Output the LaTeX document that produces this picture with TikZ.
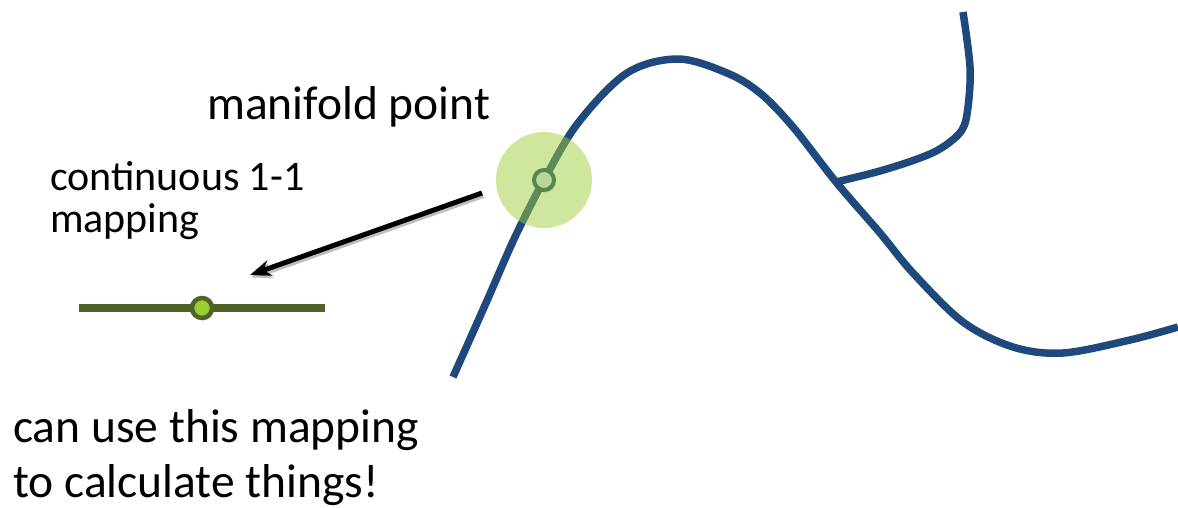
\documentclass[tikz,border=0pt]{standalone}
\usepackage{fontspec}
\setmainfont{Carlito}
\usetikzlibrary{arrows.meta,shadows}
\definecolor{curveblue}{RGB}{31,73,125}
\definecolor{segolive}{RGB}{79,98,40}
\definecolor{lpfill}{RGB}{154,205,50}
\definecolor{nbhd}{RGB}{160,205,60}
\definecolor{mpfill}{RGB}{185,215,150}
\definecolor{mpdraw}{RGB}{85,135,80}
\begin{document}
\begin{tikzpicture}[x=1pt,y=-1pt,
  curve/.style={draw=curveblue, line width=7.5pt, line cap=butt},
  seg/.style={draw=segolive, line width=7.5pt},
  nbhdcircle/.style={circle, fill=nbhd, fill opacity=0.5, minimum size=96pt, inner sep=0pt},
  mpoint/.style={circle, draw=mpdraw, fill=mpfill, line width=4pt, minimum size=20pt, inner sep=0pt,
    drop shadow={shadow xshift=1.5pt, shadow yshift=-2.5pt, opacity=0.3}},
  lpoint/.style={circle, draw=segolive, fill=lpfill, line width=4.5pt, minimum size=20pt, inner sep=0pt,
    drop shadow={shadow xshift=1.5pt, shadow yshift=-2.5pt, opacity=0.3}},
  arr/.style={draw=black, line width=5pt, -{Stealth[length=21pt,width=16pt]},
    preaction={draw=black, opacity=0.25, line width=5pt, -{Stealth[length=21pt,width=16pt]},
      transform canvas={shift={(1.5pt,-2.5pt)}}}},
  bigtext/.style={anchor=base west, inner sep=0pt, align=left, font=\fontsize{47.5}{55}\selectfont},
  midtext/.style={anchor=base west, inner sep=0pt, align=left, font=\fontsize{42}{42}\selectfont}
]
\useasboundingbox (0,0) rectangle (1178,508);
% manifold curve
\draw[curve] plot[smooth, tension=0.55] coordinates {(453,377) (486,303) (515,237) (544,180) (578,123) (627,73) (678,59) (727,73) (760,93) (793,127) (836,182) (880,233) (913,273) (963,322) (1013,347) (1063,353) (1130,340) (1178,327)};
\coordinate (junc) at (836,182);
\draw[curve] plot[smooth, tension=0.55] coordinates {(836,182) (880,171) (920,158) (943,147) (962,130) (968,107) (970,67) (963,12)};
% neighbourhood
\node[nbhdcircle] (nb) at (544,180) {};
\node[mpoint] (mp) at (544,180) {};
% chart segment
\coordinate (sL) at (79,308);
\coordinate (sR) at (325,308);
\draw[seg] (sL) -- (sR);
\node[lpoint] (lp) at (202,308) {};
% arrow
\coordinate (aS) at (482,193);
\coordinate (aE) at (250,275);
\draw[arr] (aS) -- (aE);
% texts
\node[bigtext] (t1) at (207,120) {manifold point};
\node[midtext] (t2) at (50,232) {continuous 1-1\\mapping};
\node[bigtext] (t3) at (13,497) {can use this mapping\\to calculate things!};
\end{tikzpicture}
\end{document}
